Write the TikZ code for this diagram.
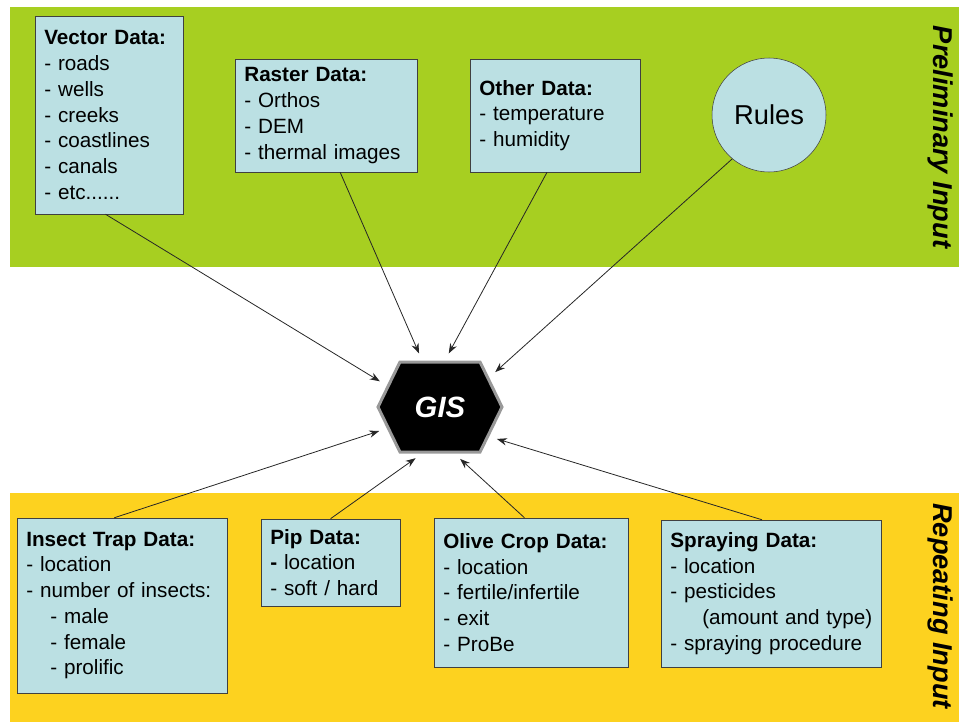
\documentclass[tikz,border=0pt]{standalone}
\usepackage{fontspec}
\setmainfont{Liberation Sans}
\usetikzlibrary{arrows.meta}
\usetikzlibrary{shapes.symbols}
\definecolor{bandgreen}{RGB}{167,207,33}
\definecolor{bandyellow}{RGB}{253,210,31}
\definecolor{boxblue}{RGB}{187,224,227}
\definecolor{boxedge}{RGB}{64,64,64}
\newcommand*{\boxfont}{\fontsize{15.5}{19.3}\selectfont}
\newcommand*{\sidefont}{\fontsize{20.4}{24}\selectfont\bfseries\itshape}
\tikzset{
   databox/.style = {draw=boxedge, fill=boxblue, align=left,
                     inner xsep=7pt, font=\boxfont},
   gisbox/.style  = {shape=signal, signal to=east and west,
                     signal pointer angle=128, fill=black, draw=gray!80,
                     line width=2.25pt, text=white,
                     minimum width=93pt, minimum height=67.5pt,
                     font=\fontsize{22}{26}\selectfont\bfseries\itshape},
   feed/.style    = {-{Stealth[length=7.5pt, width=5.5pt]},
                     shorten >=6pt, semithick, black!85}
}

\begin{document}
\begin{tikzpicture}[x=0.75pt, y=-0.75pt]

   \useasboundingbox (0,0) rectangle (959,722);

   % bands
   \fill[bandgreen]  (10,7)   rectangle (959,267);
   \fill[bandyellow] (10,493) rectangle (959,722);

   \node[rotate=-90, font=\sidefont] (prelim) at (941,137) {Preliminary Input};
   \node[rotate=-90, font=\sidefont] (repeat) at (941,606) {Repeating Input};

   % preliminary input
   \node[databox, minimum width=111pt, minimum height=148.5pt, text width=97pt]
      (vector) at (109,115) {\textbf{Vector Data:}\\- roads\\- wells\\- creeks\\- coastlines\\- canals\\- etc......};
   \node[databox, minimum width=136.5pt, minimum height=84.75pt, text width=122.5pt]
      (raster) at (326,115.5) {\textbf{Raster Data:}\\- Orthos\\- DEM\\- thermal images};
   \node[databox, minimum width=127.5pt, minimum height=84.75pt, text width=113.5pt]
      (other) at (555,115.5) {\textbf{Other Data:}\\- temperature\\- humidity};
   \node[circle, draw=boxedge, fill=boxblue, minimum size=85.5pt,
      font=\fontsize{20.5}{24}\selectfont] (rules) at (769,115) {Rules};

   \node[gisbox] (gis) at (440,407) {GIS};

   % repeating input
   \node[databox, minimum width=157.5pt, minimum height=131.25pt, text width=143.5pt]
      (insect) at (122,605.5) {\textbf{Insect Trap Data:}\\- location\\- number of insects:\\\hspace*{18pt}- male\\\hspace*{18pt}- female\\\hspace*{18pt}- prolific};
   \node[databox, minimum width=104.25pt, minimum height=65.25pt, text width=90.25pt]
      (pip) at (330.5,562.5) {\textbf{Pip Data:}\\\textbf{-} location\\- soft / hard};
   \node[databox, minimum width=145.5pt, minimum height=111.75pt, text width=131.5pt]
      (olive) at (531,592.5) {\textbf{Olive Crop Data:}\\- location\\- fertile/infertile\\- exit\\- ProBe};
   \node[databox, minimum width=165pt, minimum height=110.25pt, text width=151pt]
      (spray) at (771,593.5) {\textbf{Spraying Data:}\\- location\\- pesticides\\\mbox{\hspace*{24pt}(amount and type)}\\- spraying procedure};

   % arrows into the GIS
   \draw[feed] (vector.-92)  -- (gis.158);
   \draw[feed] (raster.-76)  -- (gis.111);
   \draw[feed] (other.-98)   -- (gis.84);
   \draw[feed] (rules.-130)  -- (gis.31);
   \draw[feed] (insect.95)   -- (gis.-158);
   \draw[feed] (pip.north)   -- (gis.-111);
   \draw[feed] (olive.95)    -- (gis.-73);
   \draw[feed] (spray.97)    -- (gis.-31);

\end{tikzpicture}
\end{document}
